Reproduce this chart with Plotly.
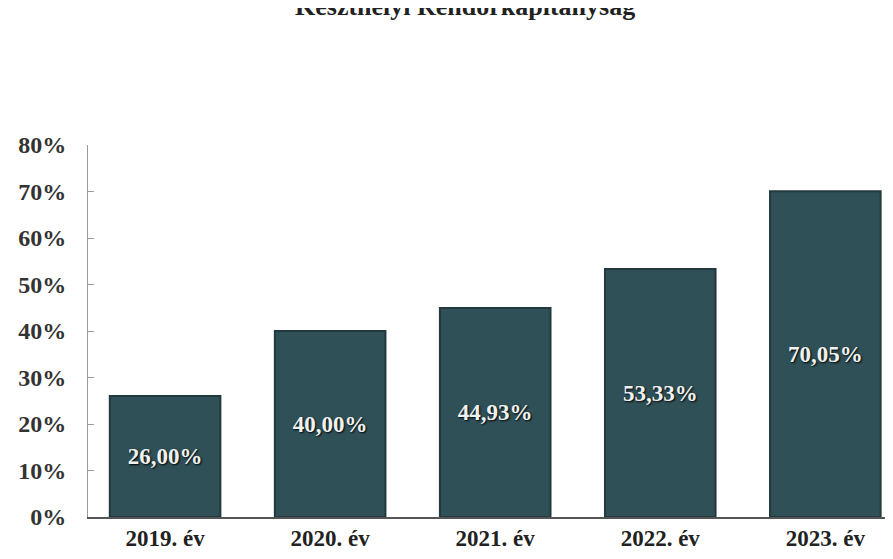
import plotly.graph_objects as go

categories = ["2019. év", "2020. év", "2021. év", "2022. év", "2023. év"]
values = [26.00, 40.00, 44.93, 53.33, 70.05]
labels = ["26,00%", "40,00%", "44,93%", "53,33%", "70,05%"]
tick_vals = [0, 10, 20, 30, 40, 50, 60, 70, 80]
tick_text = ["0%", "10%", "20%", "30%", "40%", "50%", "60%", "70%", "80%"]
title_text = "Keszthelyi Rendőrkapitányság"

serif = "Liberation Serif, Times New Roman, serif"

# page body has an 8px margin, so the figure is sized to fit the window
W, H = 885, 551
L, T, B, R = 80, 137, 42, 0
plot_w = W - L - R
plot_h = H - T - B

fig = go.Figure()
fig.add_trace(go.Bar(
    x=list(range(len(categories))),
    y=values,
    text=["<b>" + s + "</b>" for s in labels],
    textposition="inside",
    insidetextanchor="middle",
    textangle=0,
    textfont=dict(family=serif, size=23, color="#f0f2f0",
                  shadow="1px 1px 2px #000000"),
    marker=dict(color="#2f5057", line=dict(color="#22393d", width=2)),
    width=0.67,
    hoverinfo="skip",
))

fig.update_layout(
    width=W, height=H,
    margin=dict(l=L, r=R, t=T, b=B, autoexpand=False),
    paper_bgcolor="white", plot_bgcolor="white",
    showlegend=False,
    uniformtext=dict(minsize=8, mode="show"),
    annotations=[dict(
        text="<b>" + title_text + "</b>",
        xref="paper", yref="paper",
        x=(465 - 8 - L) / plot_w, y=(509 + 2) / plot_h,
        xanchor="center", yanchor="middle",
        showarrow=False,
        font=dict(family=serif, size=26, color="#222222"),
    )],
)

fig.update_xaxes(
    range=[-0.467, 4.41],
    tickvals=list(range(len(categories))),
    ticktext=["<b>" + c + "</b>" for c in categories],
    tickfont=dict(family=serif, size=23, color="#222222"),
    showgrid=False, zeroline=False,
    showline=True, linecolor="#555555", linewidth=1.5,
    ticks="", ticklabelstandoff=0,
)
fig.update_yaxes(
    range=[0, 80],
    tickvals=tick_vals,
    ticktext=["<b>" + t + "</b>" for t in tick_text],
    tickfont=dict(family=serif, size=24, color="#333333"),
    showgrid=False, zeroline=False,
    showline=True, linecolor="#9a9a9a", linewidth=1,
    ticks="inside", ticklen=6, tickcolor="#9a9a9a",
    ticklabelstandoff=16,
)

fig.write_html("out.html")
